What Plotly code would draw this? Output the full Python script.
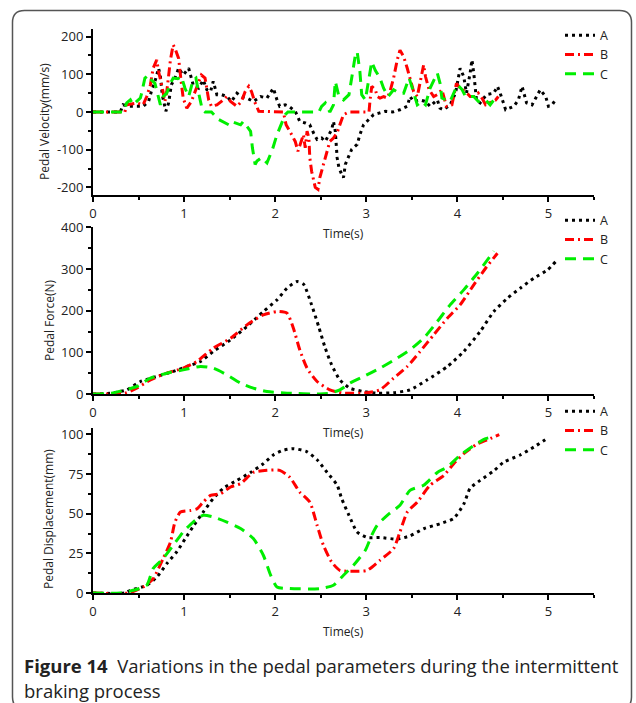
import plotly.graph_objects as go

W, H = 636, 703

# ---------------- data ----------------
# Pedal velocity (mm/s)
vel_t_A = [0, 0.30, 0.33, 0.40, 0.48, 0.55, 0.61, 0.64, 0.68, 0.72, 0.74, 0.76, 0.80, 0.83, 0.86, 0.90,
           0.94, 0.99, 1.05, 1.10, 1.16, 1.21, 1.25, 1.29, 1.32, 1.36, 1.41, 1.47, 1.52, 1.58, 1.63, 1.69,
           1.76, 1.84, 1.91, 1.98, 2.02, 2.05, 2.11, 2.15, 2.22, 2.27, 2.33, 2.38, 2.42, 2.46, 2.51, 2.55,
           2.59, 2.62, 2.64, 2.66, 2.68, 2.70, 2.73, 2.75, 2.77, 2.81, 2.84, 2.90, 2.93, 2.97, 3.03, 3.08,
           3.14, 3.21, 3.29, 3.37, 3.45, 3.48, 3.52, 3.59, 3.65, 3.70, 3.78, 3.81, 3.85, 3.92, 3.98, 4.01,
           4.03, 4.07, 4.10, 4.14, 4.16, 4.18, 4.21, 4.25, 4.32, 4.40, 4.44, 4.47, 4.53, 4.62, 4.67, 4.71,
           4.76, 4.82, 4.87, 4.91, 4.97, 5.00, 5.04, 5.09]
vel_A = [0, 0, 19, 15, 15, 15, 28, 54, 81, 116, 94, 46, 2, 24, 72, 90,
         116, 98, 116, 72, 63, 85, 59, 54, 81, 46, 46, 41, 28, 50, 41, 37,
         28, 41, 37, 63, 32, 15, 19, 15, 2, -25, -29, -34, -55, -73, -69, -78,
         -60, -47, -25, -51, -121, -148, -165, -174, -139, -117, -99, -86, -60, -34, -20, -7,
         -3, 2, 0, 6, 15, 41, 28, 32, 28, 15, 32, 10, 6, 19, 50, 94,
         116, 94, 50, 103, 138, 103, 32, 24, 46, 50, 68, 50, 6, 15, 32, 68,
         24, 19, 41, 59, 41, 15, 19, 37]

vel_t_B = [0, 0.35, 0.37, 0.42, 0.48, 0.55, 0.59, 0.63, 0.66, 0.70, 0.72, 0.75, 0.77, 0.79, 0.81, 0.83,
           0.85, 0.88, 0.90, 0.94, 0.96, 0.97, 0.99, 1.03, 1.08, 1.12, 1.16, 1.19, 1.23, 1.25, 1.27, 1.30,
           1.36, 1.41, 1.47, 1.51, 1.58, 1.63, 1.67, 1.71, 1.74, 1.78, 1.82, 2.09, 2.12, 2.16, 2.22, 2.25,
           2.29, 2.31, 2.33, 2.35, 2.37, 2.38, 2.40, 2.42, 2.44, 2.47, 2.49, 2.53, 2.57, 2.60, 2.64, 2.68,
           2.71, 2.75, 2.81, 3.03, 3.04, 3.06, 3.10, 3.12, 3.15, 3.19, 3.23, 3.26, 3.30, 3.34, 3.37, 3.41,
           3.45, 3.48, 3.52, 3.56, 3.59, 3.63, 3.65, 3.69, 3.74, 3.78, 3.83, 3.88, 3.94, 3.96, 3.99, 4.03,
           4.09, 4.14, 4.20, 4.23, 4.27, 4.31, 4.36, 4.42, 4.45]
vel_B = [0, 0, 19, 22, 24, 19, 41, 72, 116, 138, 107, 76, 46, 28, 54, 98,
         138, 178, 169, 142, 107, 76, 37, 10, 28, 54, 81, 98, 90, 63, 32, 15,
         19, 28, 41, 28, 15, 28, 54, 68, 54, 24, 2, 0, -34, -51, -78, -104,
         -78, -60, -95, -51, -69, -121, -157, -183, -200, -205, -174, -139, -104, -78, -69, -55,
         -34, -7, 0, 0, 28, 68, 59, 41, 37, 41, 37, 54, 90, 138, 164, 147,
         116, 90, 54, 41, 76, 125, 94, 59, 41, 46, 59, 15, 19, 41, 76, 63,
         54, 41, 41, 50, 37, 19, 24, 32, 41]

vel_t_C = [0, 0.33, 0.37, 0.41, 0.44, 0.52, 0.53, 0.57, 0.61, 0.64, 0.68, 0.72, 0.74, 0.77, 0.81, 0.85,
           0.88, 0.93, 0.97, 1.01, 1.05, 1.10, 1.13, 1.16, 1.20, 1.23, 1.30, 1.38, 1.49, 1.52, 1.62, 1.65,
           1.73, 1.75, 1.78, 1.80, 1.85, 1.91, 1.97, 2.02, 2.06, 2.11, 2.14, 2.48, 2.51, 2.55, 2.60, 2.64,
           2.66, 2.70, 2.75, 2.81, 2.84, 2.88, 2.90, 2.93, 2.95, 2.99, 3.03, 3.06, 3.10, 3.15, 3.19, 3.24,
           3.30, 3.36, 3.41, 3.47, 3.51, 3.56, 3.61, 3.65, 3.70, 3.78, 3.81, 3.83, 3.92, 4.00, 4.05, 4.09,
           4.18, 4.23, 4.31, 4.36, 4.40]
vel_C = [0, 0, 24, 32, 19, 37, 46, 90, 98, 85, 76, 32, 19, 41, 50, 76,
         90, 88, 94, 63, 41, 85, 90, 50, 6, 0, 0, -20, -34, -25, -34, -25,
         -51, -95, -139, -130, -121, -135, -99, -60, -34, -7, 0, 0, 15, 24, 0, 19,
         81, 41, 32, 46, 90, 151, 160, 107, 46, 32, 90, 133, 110, 90, 63, 41,
         59, 50, 50, 90, 60, 19, 28, 19, 63, 103, 76, 37, 28, 72, 60, 41,
         41, 28, 32, 19, 32]

# Pedal force (N)
frc_t_A = [0, 0.19, 0.37, 0.52, 0.70, 0.88, 1.03, 1.18, 1.32, 1.51, 1.69, 1.87, 2.02, 2.13, 2.24, 2.31,
           2.40, 2.48, 2.55, 2.62, 2.71, 2.82, 2.97, 3.12, 3.30, 3.48, 3.67, 3.89, 4.07, 4.25, 4.40, 4.55,
           4.69, 4.84, 4.99, 5.08]
frc_A = [0, 2, 10, 30, 42, 54, 66, 78, 102, 130, 162, 198, 226, 254, 270, 264,
         214, 160, 110, 70, 34, 14, 6, 2, 3, 10, 34, 66, 102, 150, 198, 230,
         254, 278, 298, 318]

frc_t_B = [0, 0.35, 0.48, 0.63, 0.81, 0.99, 1.14, 1.32, 1.51, 1.69, 1.87, 2.02, 2.13, 2.20, 2.27, 2.35,
           2.46, 2.60, 2.75, 3.01, 3.15, 3.30, 3.45, 3.59, 3.74, 3.89, 4.03, 4.18, 4.31, 4.44]
frc_B = [0, 2, 14, 34, 50, 62, 78, 110, 134, 166, 190, 198, 194, 158, 106, 62,
         30, 10, 2, 3, 10, 38, 66, 102, 142, 182, 214, 262, 302, 338]

frc_t_C = [0, 0.20, 0.48, 0.63, 0.81, 0.99, 1.18, 1.32, 1.47, 1.62, 1.76, 1.91, 2.13, 2.49, 2.60, 2.71,
           2.82, 2.97, 3.15, 3.34, 3.48, 3.63, 3.78, 3.92, 4.07, 4.22, 4.33, 4.40]
frc_C = [0, 2, 18, 38, 50, 58, 66, 62, 46, 26, 14, 6, 2, 0, 2, 10,
         26, 42, 62, 86, 106, 134, 174, 214, 250, 290, 322, 343]

# Pedal displacement (mm)
dsp_t_A = [0, 0.35, 0.41, 0.59, 0.70, 0.81, 0.92, 1.01, 1.10, 1.21, 1.32, 1.43, 1.58, 1.73, 1.87, 1.98,
           2.09, 2.20, 2.35, 2.46, 2.57, 2.68, 2.73, 2.81, 2.90, 3.01, 3.15, 3.34, 3.48, 3.63, 3.81, 3.96,
           4.07, 4.14, 4.25, 4.40, 4.51, 4.69, 4.84, 5.00]
dsp_A = [0, 0, 1.7, 4.9, 10, 18.5, 26, 34, 42, 51, 59.5, 66, 71, 76, 81.5, 87,
         90, 91, 89, 84, 76, 68, 59.5, 49, 38.5, 35, 35, 34, 36, 40.5, 43.7, 47,
         56, 66, 71, 77, 82.5, 87, 92, 98]

dsp_t_B = [0, 0.39, 0.55, 0.66, 0.77, 0.85, 0.90, 0.96, 1.07, 1.14, 1.21, 1.29, 1.40, 1.51, 1.62, 1.76,
           1.91, 2.05, 2.16, 2.27, 2.38, 2.46, 2.53, 2.62, 2.71, 2.86, 3.01, 3.15, 3.30, 3.37, 3.45, 3.56,
           3.70, 3.85, 3.96, 4.07, 4.22, 4.36, 4.46]
dsp_B = [0, 0, 3.8, 9, 21.7, 32, 44.7, 51, 52, 53, 57.3, 61.5, 62.6, 66.8, 69, 76,
         77.3, 77.3, 73, 63.6, 57.3, 42.7, 30, 19.5, 14.3, 13.7, 14.3, 20.6, 28, 38.5, 51, 57.3,
         67.9, 74, 81.5, 87.8, 94, 97.3, 99.8]

dsp_t_C = [0, 0.30, 0.44, 0.59, 0.66, 0.77, 0.88, 0.99, 1.10, 1.21, 1.32, 1.47, 1.62, 1.76, 1.87, 1.95,
           2.02, 2.16, 2.49, 2.64, 2.75, 2.86, 2.99, 3.06, 3.12, 3.23, 3.37, 3.48, 3.63, 3.78, 3.89, 4.03,
           4.18, 4.31, 4.38]
dsp_C = [0, 0, 1.7, 4.9, 15.4, 21.7, 30, 38.5, 44.7, 49, 47.9, 44.7, 40.6, 34.3, 23.8, 11.2,
         3.8, 2.8, 2.8, 4.9, 11.2, 17.5, 27, 36.4, 42.7, 49, 55.3, 64.7, 67.9, 76, 79.4, 86.8,
         93, 97.3, 98.3]

series_names = ["A", "B", "C"]
x_ticks = [0, 1, 2, 3, 4, 5]
vel_ticks = [-200, -100, 0, 100, 200]
vel_tick_text = ["-200", "-100", "0", "100", "200"]
frc_ticks = [0, 100, 200, 300, 400]
dsp_ticks = [0, 25, 50, 75, 100]

# ---------------- styling ----------------
FONT = "Open Sans"
styles = {
    "A": dict(color="#000000", dash="3px,4px", width=3),
    "B": dict(color="#ff0000", dash="9px,4px,2px,4px", width=3),
    "C": dict(color="#00ee00", dash="11px,7px", width=3),
}

fig = go.Figure()

panels = [
    (1, "legend", [(vel_t_A, vel_A), (vel_t_B, vel_B), (vel_t_C, vel_C)], "linear"),
    (2, "legend2", [(frc_t_A, frc_A), (frc_t_B, frc_B), (frc_t_C, frc_C)], "spline"),
    (3, "legend3", [(dsp_t_A, dsp_A), (dsp_t_B, dsp_B), (dsp_t_C, dsp_C)], "spline"),
]
for idx, leg, data, shape in panels:
    sfx = "" if idx == 1 else str(idx)
    for name, (tx, vy) in zip(series_names, data):
        st = styles[name]
        fig.add_trace(go.Scatter(
            x=tx, y=vy, mode="lines", name=name,
            line=dict(color=st["color"], dash=st["dash"], width=st["width"],
                      shape=shape, smoothing=0.6),
            xaxis="x" + sfx, yaxis="y" + sfx, legend=leg, hoverinfo="skip",
        ))


def px_dom(top_px, bottom_px):
    return [1 - bottom_px / H, 1 - top_px / H]


x_dom = [93 / W, 594 / W]
y_doms = [px_dom(29, 195), px_dom(227, 394), px_dom(428, 593)]

axis_common = dict(
    showline=True, linecolor="black", linewidth=2, ticks="outside", ticklen=5,
    tickwidth=1.5, tickcolor="black", showgrid=False, zeroline=False, automargin=False,
    tickfont=dict(family=FONT, size=13, color="#222"),
)

layout = dict(
    width=W, height=H, autosize=False, margin=dict(l=0, r=0, t=0, b=0, pad=0),
    paper_bgcolor="white", plot_bgcolor="white",
    font=dict(family=FONT, color="#222"),
)
minor_y = dict(ticklen=3, ticks="outside", tickcolor="black")
y_specs = [
    dict(range=[-220, 220], tickvals=vel_ticks, ticktext=vel_tick_text, minor=dict(minor_y, dtick=50)),
    dict(range=[0, 401], tickvals=frc_ticks, minor=dict(minor_y, dtick=50)),
    dict(range=[0, 104], tickvals=dsp_ticks, minor=dict(minor_y, dtick=12.5)),
]
for i in range(3):
    sfx = "" if i == 0 else str(i + 1)
    layout["xaxis" + sfx] = dict(axis_common, domain=x_dom, range=[0, 5.5], tickvals=x_ticks,
                                  anchor="y" + sfx,
                                  minor=dict(dtick=0.5, ticklen=3, ticks="outside", tickcolor="black"))
    layout["yaxis" + sfx] = dict(axis_common, domain=y_doms[i], anchor="x" + sfx, **y_specs[i])

# legends, one per panel
for leg, top_px in [("legend", 20.5), ("legend2", 205.5), ("legend3", 396.5)]:
    layout[leg] = dict(x=560 / W, xanchor="left", y=1 - top_px / H, yanchor="top",
                       bgcolor="rgba(0,0,0,0)", font=dict(family=FONT, size=12.5, color="#222"),
                       itemwidth=30, tracegroupgap=0)

fig.update_layout(**layout)


def label(text, cx, cy, size, angle=0, xanchor="center"):
    fig.add_annotation(text=text, x=cx / W, y=1 - cy / H, xref="paper", yref="paper",
                       xanchor=xanchor, yanchor="middle", showarrow=False, textangle=angle,
                       font=dict(family=FONT, size=size, color="#222"))


# axis titles
for text, cy, cx in [("Pedal Velocity(mm/s)", 122, 45), ("Pedal Force(N)", 321, 49),
                     ("Pedal Displacement(mm)", 519, 48)]:
    label(text, cx, cy, 12, angle=-90)
for cy in [233, 432, 631]:
    label("Time(s)", 343.5, cy, 12)

# caption
label("<b>Figure 14</b>  Variations in the pedal parameters during the intermittent", 22, 665, 18.5,
      xanchor="left")
label("braking process", 22, 690, 18.5, xanchor="left")

# rounded frame (its lower edge runs just past the bottom of the page)
x0, x1, y0, y1, r = 12.5, 631.5, 10.5, 709.0, 12


def P(px, py):
    return f"{px / W:.5f},{1 - py / H:.5f}"


frame = (f"M{P(x0 + r, y0)} L{P(x1 - r, y0)} Q{P(x1, y0)} {P(x1, y0 + r)} "
         f"L{P(x1, y1 - r)} Q{P(x1, y1)} {P(x1 - r, y1)} L{P(x0 + r, y1)} "
         f"Q{P(x0, y1)} {P(x0, y1 - r)} L{P(x0, y0 + r)} Q{P(x0, y0)} {P(x0 + r, y0)} Z")
fig.add_shape(type="path", path=frame, xref="paper", yref="paper",
              line=dict(color="#555", width=1.5), layer="above")

fig.write_html("out.html")
